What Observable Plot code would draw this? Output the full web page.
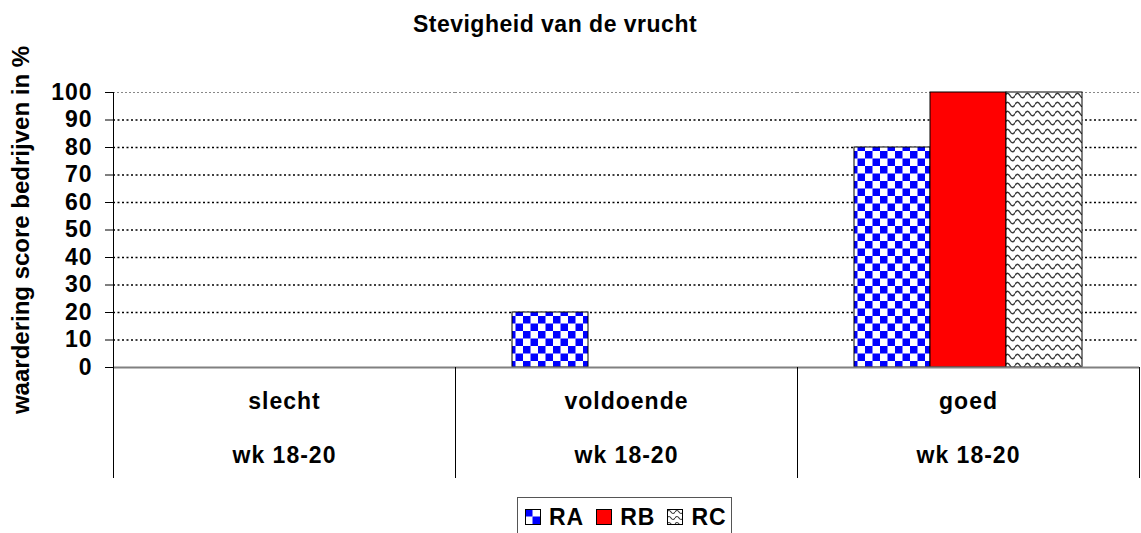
<!DOCTYPE html>
<html>
<head>
<meta charset="utf-8">
<script src="https://cdn.jsdelivr.net/npm/d3@7"></script>
<script src="https://cdn.jsdelivr.net/npm/@observablehq/plot@0.6"></script>
<style>
html, body { margin: 0; padding: 0; background: #fff; overflow: hidden; }
body { width: 1141px; height: 533px; position: relative; font-family: "Liberation Sans", Arial, sans-serif; font-weight: bold; color: #000; }
#title { width: 1110px; height: 46px; line-height: 48px; text-align: center; font-size: 23px; letter-spacing: 0.5px; }
#chart { height: 451px; }
#legend { position: absolute; left: 517px; top: 497px; width: 215px; height: 40px; border: 1px solid #555; display: flex; align-items: center; padding-left: 7px; box-sizing: border-box; font-size: 23px; letter-spacing: 1px; }
#legend .item { display: flex; align-items: center; margin-right: 12px; }
#legend .item svg { margin-right: 8px; display: block; }
</style>
</head>
<body>
<svg width="0" height="0" style="position:absolute">
  <defs>
    <pattern id="pat-checker" patternUnits="userSpaceOnUse" width="15" height="15">
      <rect width="15" height="15" fill="#ffffff"/>
      <rect width="7.5" height="7.5" fill="#0000ff"/>
      <rect x="7.5" y="7.5" width="7.5" height="7.5" fill="#0000ff"/>
    </pattern>
    <pattern id="pat-wave" patternUnits="userSpaceOnUse" width="10" height="9">
      <rect width="10" height="9" fill="#ffffff"/>
      <path d="M0,4.5 Q2.5,0 5,4.5 T10,4.5" fill="none" stroke="#3a3a3a" stroke-width="1.5"/>
    </pattern>
    <pattern id="pat-wave-small" patternUnits="userSpaceOnUse" width="8" height="6">
      <rect width="8" height="6" fill="#ffffff"/>
      <path d="M0,3 Q2,0 4,3 T8,3" fill="none" stroke="#3a3a3a" stroke-width="1.2"/>
    </pattern>
  </defs>
</svg>
<div id="title">Stevigheid van de vrucht</div>
<div id="chart"></div>
<div id="legend"></div>
<script>
// ---- data ----
const categories = ["slecht", "voldoende", "goed"];
const periods = ["wk 18-20", "wk 18-20", "wk 18-20"];
const series = ["RA", "RB", "RC"];
const valuesRA = [0, 20, 80];
const valuesRB = [0, 0, 100];
const valuesRC = [0, 0, 100];
const yTicks = [0, 10, 20, 30, 40, 50, 60, 70, 80, 90, 100];
const yLabel = "waardering score bedrijven in %";

// ---- build table ----
const seriesValues = {RA: valuesRA, RB: valuesRB, RC: valuesRC};
const rows = series.flatMap(s => categories.map((c, i) => ({category: c, series: s, value: seriesValues[s][i]})));
const fills = {RA: "url(#pat-checker)", RB: "#ff0000", RC: "url(#pat-wave)"};
const legendFills = {RA: "url(#pat-checker)", RB: "#ff0000", RC: "url(#pat-wave-small)"};
const periodRows = categories.map((c, i) => ({category: c, period: periods[i]}));

const chart = Plot.plot({
  width: 1141,
  height: 451,
  marginTop: 46,
  marginBottom: 130,
  marginLeft: 112,
  marginRight: 2,
  style: {
    fontFamily: "'Liberation Sans', Arial, sans-serif",
    fontSize: "23px",
    fontWeight: "bold",
    letterSpacing: "1px",
    color: "#000",
    background: "#fff",
    overflow: "visible"
  },
  fx: {domain: categories, padding: 0, axis: null},
  x: {domain: series, paddingInner: 0, paddingOuter: 0.75, axis: null},
  y: {domain: [0, 100], ticks: yTicks, tickSize: 8, tickPadding: 13, label: null, tickFormat: d => String(d)},
  marks: [
    Plot.ruleY(yTicks.filter(v => v > 0 && v < 100), {stroke: "#000", strokeWidth: 1.5, strokeDasharray: "2,2.5"}),
    Plot.ruleY(yTicks.filter(v => v === 100), {stroke: "#888", strokeWidth: 1, strokeDasharray: "2,2"}),
    ...series.map(s => Plot.barY(rows.filter(r => r.series === s && r.value > 0), {
      fx: "category", x: "series", y: "value", fill: fills[s], stroke: "#000", strokeWidth: 1
    })),
    Plot.ruleY([0], {stroke: "#808080", strokeWidth: 2}),
    Plot.text(categories, {fx: d => d, text: d => d, frameAnchor: "bottom", dy: 41}),
    Plot.text(periodRows, {fx: "category", text: "period", frameAnchor: "bottom", dy: 95}),
    Plot.text([yLabel], {frameAnchor: "left", textAnchor: "middle", rotate: -90, dx: -92, facet: "super", fontSize: 24})
  ]
});

document.getElementById("chart").appendChild(chart);

const svg = d3.select(chart);
// y-axis title without extra letter spacing
svg.selectAll("text").filter(function() { return this.textContent === yLabel; })
  .style("letter-spacing", "0px");

// axis line and category dividers derived from the scales
const fxs = chart.scale("fx");
const ys = chart.scale("y");
const y0 = ys.apply(0), y100 = ys.apply(100);
const edges = categories.map(c => fxs.apply(c));
edges.push(fxs.apply(categories[categories.length - 1]) + fxs.bandwidth);
const g = svg.append("g").attr("stroke", "#000").attr("stroke-width", 1);
edges.forEach((x, i) => {
  const xx = Math.round(x) + 0.5;
  g.append("line")
    .attr("x1", xx).attr("x2", xx)
    .attr("y1", i === 0 ? y100 : y0)
    .attr("y2", y0 + 111);
});

// legend
const legend = d3.select("#legend");
series.forEach(s => {
  const item = legend.append("div").attr("class", "item");
  const sw = item.append("svg").attr("width", 16).attr("height", 16);
  sw.append("rect").attr("x", 0.5).attr("y", 0.5).attr("width", 15).attr("height", 15)
    .attr("fill", legendFills[s]).attr("stroke", "#000").attr("stroke-width", 1);
  item.append("span").text(s);
});
</script>
</body>
</html>
